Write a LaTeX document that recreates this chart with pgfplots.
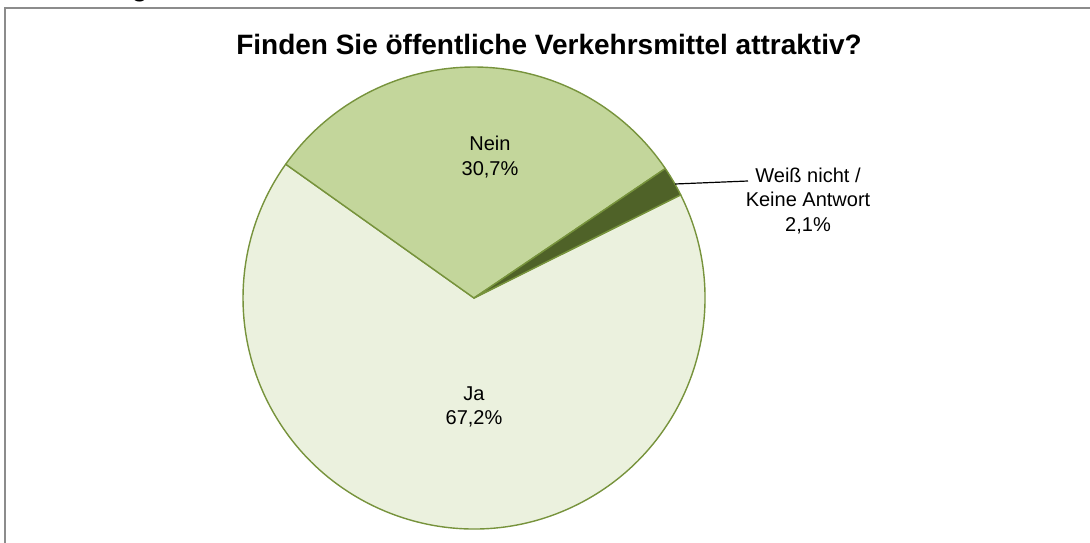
\documentclass[border=0pt]{standalone}
\usepackage{pgfplots}
\pgfplotsset{compat=1.18}
\usepackage{fontspec}
\setmainfont{Liberation Sans}
\definecolor{jaC}{HTML}{EBF1DE}
\definecolor{neinC}{HTML}{C3D69B}
\definecolor{wnC}{HTML}{4F6228}
\definecolor{edgeC}{HTML}{77933C}
\definecolor{frameC}{HTML}{8C8C8C}
\begin{document}
\begin{tikzpicture}
\begin{axis}[
  scale only axis, width=1090pt, height=542pt,
  xmin=0, xmax=1090, ymin=0, ymax=542,
  axis lines=none, clip=false,
]
% values (percent)
\def\vJa{67.2}
\def\vNein{30.7}
\def\vWn{2.1}
\def\startA{144.6}
\pgfmathsetmacro{\aA}{\startA}
\pgfmathsetmacro{\aB}{\aA-3.6*\vNein}
\pgfmathsetmacro{\aC}{\aB-3.6*\vWn}
\pgfmathsetmacro{\aD}{\aC-3.6*\vJa}
\coordinate (LL) at (axis cs:0,0);
\coordinate (UR) at (axis cs:1090,542);
% frame
\draw[frameC, line width=1.6pt] (axis cs:5,-20) -- (axis cs:5,534) -- (axis cs:1110,534);
% cut text at top (only the descender of g is visible)
\node[anchor=base east, inner sep=0pt, font=\fontsize{26}{30}\selectfont\bfseries] at (axis cs:148,545) {Abbildung};
% slices
\filldraw[fill=jaC, draw=edgeC, line width=1.4pt, line join=round] (axis cs:474,244) -- ++(\aC:231pt) arc[start angle=\aC, end angle=\aD, radius=231pt] -- cycle;
\filldraw[fill=neinC, draw=edgeC, line width=1.4pt, line join=round] (axis cs:474,244) -- ++(\aA:231pt) arc[start angle=\aA, end angle=\aB, radius=231pt] -- cycle;
\filldraw[fill=wnC, draw=edgeC, line width=1.4pt, line join=round] (axis cs:474,244) -- ++(\aB:231pt) arc[start angle=\aB, end angle=\aC, radius=231pt] -- cycle;
% title
\node[font=\fontsize{28}{32}\selectfont\bfseries, anchor=base] at (axis cs:549,487) {Finden Sie öffentliche Verkehrsmittel attraktiv?};
% labels
\node[font=\fontsize{20}{24.5}\selectfont, align=center] at (axis cs:490,385) {Nein\\30,7\%};
\node[font=\fontsize{20}{24.5}\selectfont, align=center] at (axis cs:474,135) {Ja\\67,2\%};
\node[font=\fontsize{20}{24.5}\selectfont, align=center] at (axis cs:808,341) {Weiß nicht /\\Keine Antwort\\2,1\%};
\draw[black, line width=1.2pt] (axis cs:675,358) -- (axis cs:748,361);
\end{axis}
\pgfresetboundingbox
\useasboundingbox (LL) rectangle (UR);
\end{tikzpicture}
\end{document}
